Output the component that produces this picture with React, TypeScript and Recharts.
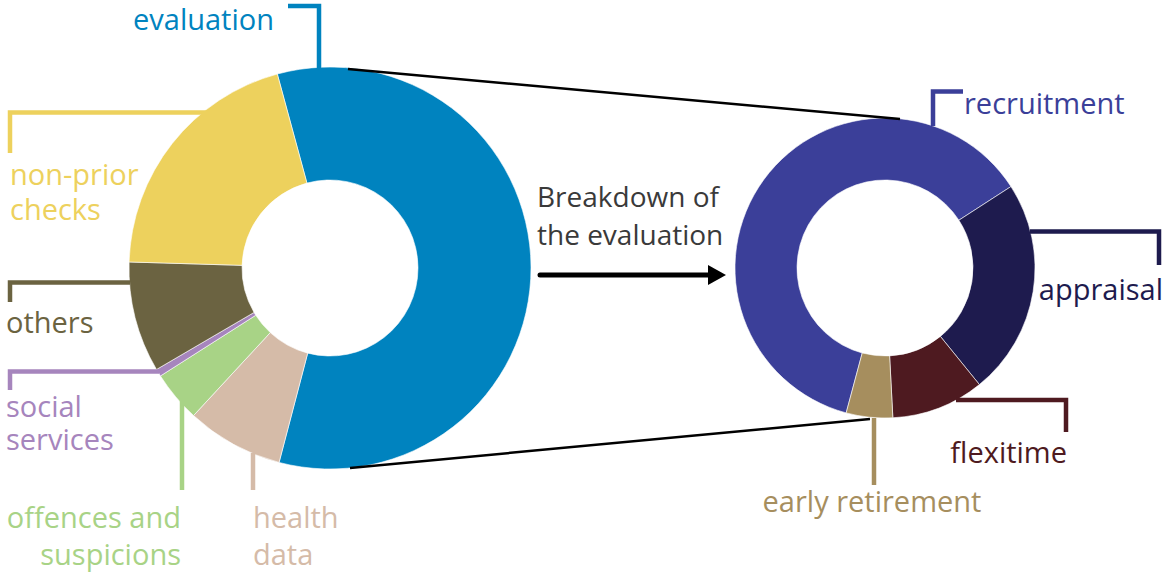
import { Cell, Pie, PieChart } from "recharts";

// left donut: all personal data categories (share of cases, %)
const leftNames = [
  "evaluation",
  "health data",
  "offences and suspicions",
  "social services",
  "others",
  "non-prior checks",
];
const leftValues = [58.3, 7.8, 4.1, 0.6, 8.9, 20.3];
const leftColors = ["#0083bf", "#d5bba8", "#a8d386", "#a685bd", "#6b6341", "#edd15d"];

// right donut: breakdown of the evaluation slice
const rightNames = ["recruitment", "appraisal", "flexitime", "early retirement"];
const rightValues = [61.7, 23.3, 10.0, 5.0];
const rightColors = ["#3b3f99", "#1e1b4e", "#4e1a20", "#a68e5e"];

const leftData = leftNames.map((name, i) => ({ name, value: leftValues[i] }));
const rightData = rightNames.map((name, i) => ({ name, value: rightValues[i] }));

const W = 1165;
const H = 574;
const FONT = "'Open Sans', 'Noto Sans', sans-serif";
const TEXT = { fontFamily: FONT, fontSize: 28 } as const;
const LABEL = { fontFamily: FONT, fontSize: 29 } as const;
const LW = 4.5;

// two-line label kept in one <text> so the lines share a box
function Label2({ x, y, gap, lines, fill, anchor = "start", base = LABEL }: any) {
  return (
    <text x={x} y={y} fill={fill} textAnchor={anchor} {...base}>
      <tspan x={x}>{lines[0]}</tspan>
      <tspan x={x} dy={gap}>{lines[1]}</tspan>
    </text>
  );
}

function Annotations() {
  return (
    <svg
      width={W}
      height={H}
      style={{ position: "absolute", left: 0, top: 0, pointerEvents: "none" }}
    >
      {/* zoom connectors */}
      <line x1={348} y1={69} x2={900} y2={119} stroke="#000" strokeWidth={2.5} />
      <line x1={350} y1={468} x2={870} y2={419} stroke="#000" strokeWidth={2.5} />

      {/* arrow */}
      <line x1={540} y1={275} x2={712} y2={275} stroke="#000" strokeWidth={5} strokeLinecap="round" />
      <polygon points="708,265 726,275 708,285" fill="#000" />
      <Label2 x={537} y={207} gap={38} lines={["Breakdown of", "the evaluation"]} fill="#3a3a3a" base={TEXT} />

      {/* left labels */}
      <polyline points="288,6 319,6 319,70" fill="none" stroke="#0083bf" strokeWidth={LW} />
      <text x={133} y={30} fill="#0083bf" {...LABEL}>evaluation</text>

      <polyline points="10,153 10,112.5 207,112.5" fill="none" stroke="#edd15d" strokeWidth={LW} />
      <Label2 x={10} y={185} gap={35} lines={["non-prior", "checks"]} fill="#edd15d" />

      <polyline points="10,302 10,282.5 130,282.5" fill="none" stroke="#6b6341" strokeWidth={LW} />
      <text x={6} y={333} fill="#6b6341" {...LABEL}>others</text>

      <polyline points="10,390 10,371.5 159,371.5" fill="none" stroke="#a685bd" strokeWidth={LW} />
      <Label2 x={6} y={417} gap={33} lines={["social", "services"]} fill="#a685bd" />

      <line x1={182} y1={400} x2={182} y2={490} stroke="#a8d386" strokeWidth={LW} />
      <Label2 x={181} y={528} gap={37} lines={["offences and", "suspicions"]} fill="#a8d386" anchor="end" />

      <line x1={253} y1={453} x2={253} y2={490} stroke="#d5bba8" strokeWidth={LW} />
      <Label2 x={253} y={528} gap={37} lines={["health", "data"]} fill="#d5bba8" />

      {/* right labels */}
      <polyline points="933,126 933,91.5 963,91.5" fill="none" stroke="#3b3f99" strokeWidth={LW} />
      <text x={964} y={114} fill="#3b3f99" {...LABEL}>recruitment</text>

      <polyline points="1030,231.5 1159,231.5 1159,265" fill="none" stroke="#1e1b4e" strokeWidth={LW} />
      <text x={1163} y={300} textAnchor="end" fill="#1e1b4e" {...LABEL}>appraisal</text>

      <polyline points="956,400 1066,400 1066,432" fill="none" stroke="#4e1a20" strokeWidth={LW} />
      <text x={1067} y={463} textAnchor="end" fill="#4e1a20" {...LABEL}>flexitime</text>

      <line x1={874} y1={418} x2={874} y2={485} stroke="#a68e5e" strokeWidth={LW} />
      <text x={872} y={512} textAnchor="middle" fill="#a68e5e" {...LABEL}>early retirement</text>
    </svg>
  );
}

export default function App() {
  return (
    <div style={{ position: "absolute", left: 0, top: 0, width: W, height: H, background: "#fff" }}>
      <PieChart width={W} height={H} margin={{ top: 0, right: 0, bottom: 0, left: 0 }}>
        <Pie
          data={leftData}
          dataKey="value"
          nameKey="name"
          cx={330}
          cy={268}
          outerRadius={201}
          innerRadius={88}
          startAngle={105.2}
          endAngle={-254.8}
          stroke="#ffffff"
          strokeWidth={0.6}
          isAnimationActive={false}
        >
          {leftData.map((d, i) => (
            <Cell key={d.name} fill={leftColors[i]} />
          ))}
        </Pie>
        <Pie
          data={rightData}
          dataKey="value"
          nameKey="name"
          cx={885}
          cy={268}
          outerRadius={150}
          innerRadius={88}
          startAngle={-105}
          endAngle={-465}
          stroke="#ffffff"
          strokeWidth={0.6}
          isAnimationActive={false}
        >
          {rightData.map((d, i) => (
            <Cell key={d.name} fill={rightColors[i]} />
          ))}
        </Pie>
      </PieChart>
      <Annotations />
    </div>
  );
}
